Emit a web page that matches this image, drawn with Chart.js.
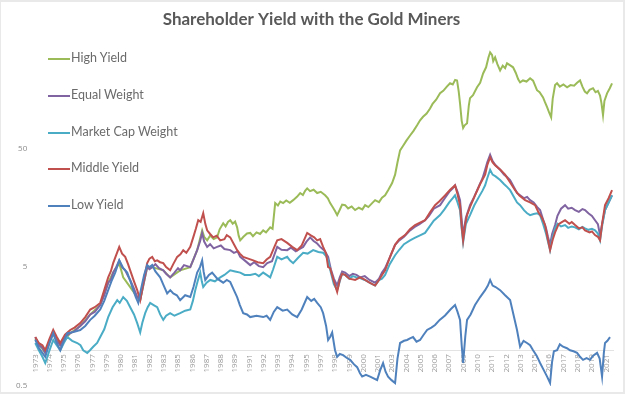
<!DOCTYPE html>
<html>
<head>
<meta charset="utf-8">
<script src="https://cdn.jsdelivr.net/npm/chart.js@4.4.1/dist/chart.umd.min.js"></script>
<style>
  html, body { margin: 0; padding: 0; background: #fff; }
  #frame {
    position: relative;
    width: 625px;
    height: 394px;
    box-sizing: border-box;
    border-top: 2px solid #e9e9e9;
    border-left: 1px solid #e9e9e9;
    border-right: 2px solid #e9e9e9;
    border-bottom: 2px solid #e9e9e9;
    background: #fff;
  }
  #chart { position: absolute; left: 0; top: 0; }
  #legend { position: absolute; left: 0; top: 0; font-family: Lato, "Open Sans", sans-serif; font-size: 12.5px; color: #6b6b6b; }
  .item { position: absolute; white-space: nowrap; line-height: 14px; }
  .swatch { position: absolute; width: 22px; height: 2px; }
</style>
</head>
<body>
<div id="frame">
  <canvas id="chart" width="622" height="390"></canvas>
  <div id="legend"></div>
</div>
<script>
const SERIES_NAMES = ["High Yield", "Equal Weight", "Market Cap Weight", "Middle Yield", "Low Yield"];
const SERIES_COLORS = ["#9bbb59", "#8064a2", "#4bacc6", "#c0504d", "#4f81bd"];

// x tick positions (fractional years) and the text printed under each
const tickPositions = [
  1973.0, 1974.2, 1975.4, 1976.6, 1977.8, 1979.0, 1980.2, 1981.4, 1982.6, 1983.8,
  1985.0, 1986.2, 1987.4, 1988.6, 1989.8, 1991.0, 1992.2, 1993.4, 1994.6, 1995.8,
  1997.0, 1998.2, 1999.4, 2000.6, 2001.8, 2003.0, 2004.2, 2005.4, 2006.6, 2007.8,
  2009.0, 2010.2, 2011.4, 2012.6, 2013.8, 2015.0, 2016.2, 2017.4, 2018.6, 2019.8, 2021.0,
];
const tickLabels = [
  "1973", "1974", "1975", "1976", "1977", "1979", "1980", "1981", "1982", "1983",
  "1985", "1986", "1987", "1988", "1989", "1991", "1992", "1993", "1994", "1995",
  "1997", "1998", "1999", "2000", "2001", "2003", "2004", "2005", "2006", "2007",
  "2009", "2010", "2011", "2012", "2013", "2015", "2016", "2017", "2018", "2019", "2021",
];
const yTicks = [0.5, 5, 50];

// [year, growth of $1]
const highYield = [
  [1973.0, 1.25], [1973.84, 0.95], [1974.51, 1.39], [1975.1, 1.1], [1975.94, 1.39], [1976.78, 1.6],
  [1977.62, 2.0], [1978.46, 2.4], [1979.13, 3.7], [1979.55, 4.5], [1980.06, 5.4], [1980.39, 4.1],
  [1980.98, 3.4], [1981.57, 2.8], [1981.82, 2.64], [1982.41, 5.0], [1982.83, 5.0], [1983.76, 4.7],
  [1984.34, 4.1], [1985.18, 4.7], [1986.03, 5.0], [1986.61, 6.95], [1987.03, 10.2], [1987.2, 9.0],
  [1987.45, 8.4], [1987.7, 9.2], [1988.0, 8.6], [1988.29, 8.9], [1988.5, 10.4], [1988.8, 11.7],
  [1989.0, 11.0], [1989.2, 12.0], [1989.39, 12.4], [1989.6, 11.6], [1989.8, 12.1], [1989.97, 10.8],
  [1990.1, 9.2], [1990.23, 8.4], [1990.5, 9.0], [1990.8, 9.6], [1991.07, 9.7], [1991.3, 9.1],
  [1991.6, 9.8], [1991.9, 9.5], [1992.16, 10.2], [1992.4, 9.8], [1992.75, 10.8], [1992.95, 10.5],
  [1993.17, 17.3], [1993.4, 16.5], [1993.6, 17.8], [1993.84, 17.3], [1994.1, 18.2], [1994.4, 17.4],
  [1994.68, 18.3], [1995.0, 19.5], [1995.27, 21], [1995.5, 20.2], [1995.7, 22.0], [1995.86, 23],
  [1996.1, 21.8], [1996.4, 22.4], [1996.7, 21], [1997.0, 21.5], [1997.37, 20.1], [1997.6, 19.0],
  [1997.79, 17.3], [1998.0, 16.0], [1998.2, 14.8], [1998.38, 13.7], [1998.6, 15.2], [1998.8, 16.8],
  [1999.05, 16.6], [1999.3, 15.6], [1999.6, 16.2], [1999.89, 15.1], [2000.2, 15.8], [2000.5, 15.3],
  [2000.73, 16.6], [2001.0, 16.0], [2001.3, 17.2], [2001.57, 18.3], [2001.9, 17.6], [2002.15, 19.2],
  [2002.41, 20.1], [2002.7, 22.5], [2003.0, 25.5], [2003.25, 30], [2003.45, 38], [2003.67, 48],
  [2003.9, 52], [2004.2, 58], [2004.51, 64], [2004.8, 70], [2005.1, 78], [2005.35, 86],
  [2005.6, 92], [2005.9, 98], [2006.19, 108], [2006.4, 118], [2006.7, 128], [2007.03, 145],
  [2007.3, 152], [2007.6, 165], [2007.87, 176], [2008.1, 172], [2008.3, 188], [2008.46, 186],
  [2008.6, 150], [2008.71, 119], [2008.85, 85], [2008.97, 74], [2009.1, 78], [2009.3, 81],
  [2009.45, 115], [2009.55, 132], [2009.8, 140], [2010.14, 163], [2010.4, 178], [2010.65, 213],
  [2010.9, 240], [2011.1, 290], [2011.24, 320], [2011.4, 305], [2011.5, 270], [2011.66, 291],
  [2011.85, 255], [2012.08, 226], [2012.3, 248], [2012.5, 236], [2012.66, 259], [2012.9, 250],
  [2013.17, 240], [2013.4, 215], [2013.6, 190], [2013.76, 179], [2014.0, 186], [2014.3, 182],
  [2014.6, 194], [2014.85, 185], [2015.18, 154], [2015.4, 148], [2015.69, 134], [2015.85, 122],
  [2016.03, 111], [2016.2, 100], [2016.37, 91], [2016.5, 130], [2016.7, 170], [2016.87, 176],
  [2017.1, 165], [2017.4, 172], [2017.71, 163], [2018.0, 170], [2018.3, 168], [2018.55, 178],
  [2018.8, 186], [2019.0, 165], [2019.2, 150], [2019.39, 145], [2019.6, 155], [2019.89, 160],
  [2020.1, 148], [2020.3, 152], [2020.48, 139], [2020.6, 120], [2020.73, 95], [2020.85, 125],
  [2021.07, 145], [2021.3, 160], [2021.49, 176],
];
const equalWeight = [
  [1973.0, 1.29], [1973.3, 1.1], [1973.6, 1.05], [1973.84, 0.95], [1974.2, 1.2], [1974.51, 1.39],
  [1974.8, 1.2], [1975.1, 1.1], [1975.5, 1.3], [1975.94, 1.39], [1976.3, 1.45], [1976.78, 1.6],
  [1977.2, 1.75], [1977.62, 2.0], [1978.0, 2.1], [1978.46, 2.4], [1978.8, 2.9], [1979.13, 3.7],
  [1979.35, 3.9], [1979.55, 4.5], [1979.8, 5.0], [1980.06, 5.7], [1980.3, 5.0], [1980.56, 4.7],
  [1980.8, 4.2], [1980.98, 3.9], [1981.3, 3.3], [1981.57, 2.8], [1981.82, 2.64], [1982.1, 3.6],
  [1982.41, 5.0], [1982.6, 4.8], [1982.83, 5.0], [1983.1, 5.3], [1983.4, 4.9], [1983.76, 4.7],
  [1984.0, 4.4], [1984.34, 4.1], [1984.7, 4.5], [1985.0, 4.9], [1985.18, 4.7], [1985.5, 5.2],
  [1986.03, 5.0], [1986.3, 5.8], [1986.61, 6.95], [1986.85, 8.2], [1987.03, 9.7], [1987.2, 8.2],
  [1987.45, 7.4], [1987.7, 7.8], [1988.0, 7.2], [1988.29, 7.4], [1988.6, 7.6], [1988.9, 7.1],
  [1989.39, 6.95], [1989.7, 6.6], [1990.0, 6.8], [1990.23, 6.1], [1990.6, 5.7], [1991.07, 5.2],
  [1991.4, 5.5], [1991.8, 5.1], [1992.16, 5.0], [1992.5, 5.4], [1992.9, 5.6], [1993.34, 7.4],
  [1993.7, 7.0], [1994.18, 6.95], [1994.5, 7.3], [1994.9, 6.8], [1995.2, 7.1], [1995.52, 7.4],
  [1995.8, 8.2], [1996.11, 8.9], [1996.4, 8.3], [1996.7, 7.9], [1996.95, 7.4], [1997.3, 6.9],
  [1997.62, 6.1], [1997.85, 4.8], [1998.1, 4.0], [1998.38, 3.5], [1998.6, 4.1], [1998.8, 4.6],
  [1999.05, 4.5], [1999.4, 4.2], [1999.7, 4.4], [2000.0, 4.3], [2000.31, 4.1], [2000.7, 4.2],
  [2001.1, 3.9], [2001.57, 3.7], [2001.9, 4.0], [2002.15, 4.5], [2002.41, 4.9], [2002.8, 6.0],
  [2003.25, 7.7], [2003.6, 8.4], [2004.0, 9.0], [2004.51, 10.2], [2004.9, 10.9], [2005.3, 11.5],
  [2005.77, 12.4], [2006.1, 13.5], [2006.5, 15.5], [2007.03, 16.6], [2007.4, 18.8], [2007.8, 21.5],
  [2008.1, 23.0], [2008.29, 24.4], [2008.5, 21.5], [2008.71, 18.3], [2008.85, 12.5], [2008.97, 9.3],
  [2009.2, 13.0], [2009.55, 16.6], [2009.9, 19.5], [2010.3, 24], [2010.6, 28], [2010.82, 33],
  [2011.0, 38], [2011.24, 44], [2011.45, 39], [2011.7, 36], [2012.08, 33], [2012.4, 30],
  [2012.6, 29], [2012.92, 27], [2013.3, 23], [2013.5, 21], [2013.76, 20.1], [2014.1, 19],
  [2014.35, 19.5], [2014.6, 18.3], [2014.9, 17.5], [2015.2, 16], [2015.44, 15.1], [2015.7, 12.5],
  [2015.95, 10.5], [2016.1, 9.0], [2016.28, 7.7], [2016.45, 9.5], [2016.7, 11.3], [2016.9, 13.5],
  [2017.2, 15.5], [2017.54, 16.6], [2017.8, 15.5], [2018.1, 15.8], [2018.38, 15.1], [2018.7, 14.6],
  [2019.0, 15.4], [2019.22, 15.1], [2019.5, 14.2], [2019.8, 13.5], [2020.06, 12.4], [2020.3, 11.5],
  [2020.48, 9.3], [2020.65, 11.5], [2020.9, 15.1], [2021.2, 17.5], [2021.49, 20.1],
];
const marketCapWeight = [
  [1973.0, 1.15], [1973.3, 1.0], [1973.6, 0.88], [1973.84, 0.78], [1974.2, 1.0], [1974.51, 1.22],
  [1974.8, 1.1], [1975.1, 1.0], [1975.4, 1.15], [1975.69, 1.29], [1976.1, 1.2], [1976.53, 1.15],
  [1976.8, 1.1], [1977.03, 1.0], [1977.37, 0.95], [1977.6, 1.0], [1977.87, 1.07], [1978.2, 1.15],
  [1978.46, 1.29], [1978.8, 1.5], [1979.13, 1.9], [1979.5, 2.3], [1979.89, 2.64], [1980.1, 2.5],
  [1980.39, 2.8], [1980.7, 2.6], [1980.98, 2.3], [1981.3, 2.0], [1981.57, 1.69], [1981.82, 1.41],
  [1982.0, 1.7], [1982.24, 2.05], [1982.45, 2.3], [1982.66, 2.5], [1982.95, 2.4], [1983.25, 2.3],
  [1983.5, 2.0], [1983.76, 1.8], [1984.0, 1.95], [1984.34, 2.05], [1984.7, 1.95], [1985.18, 2.05],
  [1985.6, 2.15], [1986.03, 2.2], [1986.25, 2.6], [1986.45, 3.2], [1986.65, 3.8], [1986.87, 4.5],
  [1987.0, 3.8], [1987.12, 3.4], [1987.4, 3.7], [1987.71, 3.9], [1988.1, 3.8], [1988.55, 4.1],
  [1988.9, 4.3], [1989.39, 4.7], [1989.8, 4.6], [1990.23, 4.5], [1990.6, 4.3], [1991.07, 4.3],
  [1991.5, 4.4], [1991.8, 4.2], [1992.16, 4.5], [1992.45, 4.3], [1992.75, 4.1], [1993.0, 4.8],
  [1993.34, 6.1], [1993.7, 5.8], [1994.18, 6.1], [1994.4, 5.7], [1994.68, 5.4], [1995.1, 6.0],
  [1995.52, 6.6], [1995.9, 6.5], [1996.36, 6.95], [1996.8, 6.7], [1997.2, 6.6], [1997.45, 6.2],
  [1997.62, 5.7], [1997.85, 4.5], [1998.1, 3.6], [1998.38, 3.2], [1998.6, 3.8], [1998.8, 4.4],
  [1999.05, 4.3], [1999.4, 4.0], [1999.7, 4.2], [2000.0, 4.1], [2000.31, 4.05], [2000.7, 3.9],
  [2001.1, 3.7], [2001.57, 3.5], [2001.9, 3.9], [2002.15, 4.0], [2002.41, 4.3], [2002.8, 5.3],
  [2003.25, 6.3], [2003.6, 7.0], [2004.0, 7.8], [2004.51, 8.4], [2004.9, 8.8], [2005.3, 9.2],
  [2005.77, 9.7], [2006.1, 10.8], [2006.5, 12.3], [2007.03, 13.7], [2007.4, 15.3], [2007.8, 17.5],
  [2008.1, 19.0], [2008.29, 20.1], [2008.5, 17.5], [2008.71, 15.1], [2008.85, 10.5], [2008.97, 8.1],
  [2009.2, 11.5], [2009.55, 13.7], [2009.9, 16.5], [2010.3, 19.5], [2010.6, 22], [2010.82, 24.4],
  [2011.0, 28], [2011.24, 33], [2011.45, 30], [2011.7, 29], [2012.08, 27], [2012.4, 25],
  [2012.6, 24], [2012.92, 22.2], [2013.3, 19], [2013.5, 17.5], [2013.76, 16.6], [2014.1, 15],
  [2014.35, 14.2], [2014.6, 13.7], [2014.9, 14.0], [2015.2, 14.2], [2015.44, 13.7], [2015.7, 11.5],
  [2015.95, 9.5], [2016.1, 8.2], [2016.28, 6.95], [2016.45, 8.6], [2016.7, 10.6], [2016.9, 11.6],
  [2017.2, 11.0], [2017.54, 11.3], [2017.8, 10.7], [2018.1, 11.0], [2018.38, 10.8], [2018.7, 10.4],
  [2019.0, 10.9], [2019.22, 10.6], [2019.5, 10.3], [2019.8, 10.5], [2020.06, 10.2], [2020.3, 9.6],
  [2020.48, 8.4], [2020.65, 11.0], [2020.9, 15.1], [2021.2, 17.5], [2021.49, 20.1],
];
const middleYield = [
  [1973.0, 1.29], [1973.3, 1.15], [1973.6, 1.1], [1973.84, 1.0], [1974.2, 1.25], [1974.51, 1.48],
  [1974.8, 1.3], [1975.1, 1.15], [1975.5, 1.35], [1975.94, 1.48], [1976.3, 1.55], [1976.78, 1.69],
  [1977.2, 1.9], [1977.62, 2.2], [1978.0, 2.3], [1978.46, 2.5], [1978.8, 3.2], [1979.13, 4.1],
  [1979.35, 4.6], [1979.55, 5.4], [1979.8, 6.3], [1980.06, 7.4], [1980.3, 6.5], [1980.56, 6.1],
  [1980.8, 5.3], [1980.98, 4.7], [1981.3, 3.8], [1981.57, 3.2], [1981.82, 2.64], [1982.1, 3.8],
  [1982.41, 5.4], [1982.6, 5.9], [1982.83, 6.1], [1983.05, 5.6], [1983.25, 5.7], [1983.5, 5.5],
  [1983.76, 5.4], [1984.0, 5.0], [1984.34, 4.7], [1984.6, 5.3], [1984.93, 6.1], [1985.2, 6.4],
  [1985.44, 6.95], [1985.7, 6.6], [1986.03, 7.4], [1986.28, 8.9], [1986.5, 10.5], [1986.7, 12.4],
  [1986.9, 12.0], [1987.12, 14.2], [1987.3, 11.5], [1987.45, 10.2], [1987.7, 9.5], [1987.96, 8.9],
  [1988.25, 9.2], [1988.55, 8.4], [1988.9, 8.6], [1989.1, 9.3], [1989.39, 8.9], [1989.7, 7.8],
  [1989.97, 6.95], [1990.2, 6.5], [1990.48, 6.1], [1990.9, 5.9], [1991.32, 5.7], [1991.7, 5.5],
  [1992.16, 5.4], [1992.45, 5.8], [1992.75, 6.1], [1993.05, 7.2], [1993.34, 8.4], [1993.7, 8.6],
  [1994.18, 8.0], [1994.6, 7.4], [1995.02, 6.95], [1995.4, 7.6], [1995.86, 9.7], [1996.2, 9.2],
  [1996.45, 8.9], [1996.7, 8.4], [1996.95, 8.6], [1997.2, 7.4], [1997.45, 6.5], [1997.62, 5.0],
  [1997.79, 4.9], [1998.1, 3.8], [1998.38, 3.1], [1998.6, 3.9], [1998.8, 4.4], [1999.05, 4.3],
  [1999.4, 4.0], [1999.89, 3.9], [2000.3, 4.1], [2000.73, 3.9], [2001.1, 3.7], [2001.57, 3.5],
  [2001.9, 3.9], [2002.15, 4.3], [2002.41, 4.7], [2002.8, 6.0], [2003.25, 7.7], [2003.6, 8.6],
  [2004.09, 9.3], [2004.5, 10.4], [2004.93, 11.3], [2005.3, 11.8], [2005.77, 12.4], [2006.2, 14.5],
  [2006.61, 16.6], [2007.0, 18.0], [2007.45, 20.1], [2007.9, 22.5], [2008.29, 24.4], [2008.5, 20.5],
  [2008.71, 16.6], [2008.85, 11.0], [2008.97, 8.4], [2009.15, 11.5], [2009.3, 13.7], [2009.6, 16.5],
  [2009.97, 20.1], [2010.4, 25], [2010.82, 30], [2011.0, 36], [2011.24, 42], [2011.45, 38],
  [2011.66, 36], [2012.1, 33], [2012.5, 30], [2012.9, 26], [2013.34, 22.2], [2013.7, 20],
  [2014.18, 18.3], [2014.6, 17.5], [2015.02, 16.6], [2015.3, 14.5], [2015.6, 13.0], [2015.86, 11.3],
  [2016.1, 8.5], [2016.28, 6.95], [2016.5, 8.5], [2016.7, 9.8], [2017.0, 11.5], [2017.3, 12.0],
  [2017.54, 12.4], [2017.9, 11.6], [2018.1, 12.0], [2018.38, 11.3], [2018.7, 10.6], [2019.0, 10.8],
  [2019.22, 10.2], [2019.6, 9.8], [2019.8, 10.0], [2020.06, 9.3], [2020.3, 9.0], [2020.48, 8.4],
  [2020.65, 11.5], [2020.9, 16.6], [2021.2, 19.0], [2021.49, 22.2],
];
const lowYield = [
  [1973.0, 1.22], [1973.3, 1.05], [1973.6, 0.95], [1973.84, 0.88], [1974.2, 1.15], [1974.51, 1.39],
  [1974.8, 1.15], [1975.1, 1.0], [1975.4, 1.2], [1975.69, 1.39], [1976.2, 1.42], [1976.78, 1.48],
  [1977.2, 1.6], [1977.62, 1.8], [1978.0, 1.95], [1978.46, 2.2], [1978.8, 2.6], [1979.13, 3.2],
  [1979.4, 3.8], [1979.72, 4.5], [1980.06, 5.7], [1980.4, 4.9], [1980.73, 4.5], [1981.0, 3.8],
  [1981.24, 3.2], [1981.45, 2.8], [1981.66, 2.5], [1981.9, 3.3], [1982.15, 4.3], [1982.41, 5.2],
  [1982.6, 5.0], [1982.83, 5.2], [1983.1, 4.6], [1983.5, 4.1], [1983.8, 3.5], [1984.09, 3.0],
  [1984.35, 3.2], [1984.6, 3.0], [1984.9, 2.9], [1985.18, 2.64], [1985.6, 2.9], [1986.03, 2.8],
  [1986.3, 3.4], [1986.61, 4.5], [1986.85, 5.0], [1987.03, 5.7], [1987.15, 4.6], [1987.29, 3.9],
  [1987.6, 4.3], [1987.87, 4.5], [1988.3, 4.0], [1988.8, 3.7], [1989.1, 3.9], [1989.39, 3.75],
  [1989.7, 3.2], [1989.97, 2.8], [1990.2, 2.4], [1990.48, 2.05], [1990.8, 2.0], [1991.07, 1.9],
  [1991.6, 1.95], [1992.16, 1.9], [1992.45, 1.95], [1992.75, 1.8], [1993.05, 2.1], [1993.34, 2.3],
  [1993.8, 2.15], [1994.18, 2.2], [1994.6, 2.0], [1995.02, 1.9], [1995.4, 2.2], [1995.86, 2.8],
  [1996.2, 2.6], [1996.45, 2.7], [1996.7, 2.5], [1997.0, 2.3], [1997.2, 2.05], [1997.45, 1.6],
  [1997.62, 1.22], [1997.8, 1.3], [1997.96, 1.41], [1998.2, 1.0], [1998.38, 0.88], [1998.6, 0.93],
  [1998.88, 0.91], [1999.2, 0.86], [1999.47, 0.83], [1999.8, 0.76], [2000.06, 0.72], [2000.3, 0.64],
  [2000.48, 0.6], [2000.8, 0.62], [2001.15, 0.6], [2001.45, 0.58], [2001.74, 0.56], [2002.0, 0.68],
  [2002.24, 0.78], [2002.45, 0.66], [2002.66, 0.6], [2002.95, 0.56], [2003.25, 0.53], [2003.45, 0.85],
  [2003.67, 1.15], [2004.0, 1.2], [2004.26, 1.22], [2004.5, 1.26], [2004.76, 1.29], [2005.05, 1.18],
  [2005.35, 1.22], [2005.65, 1.35], [2005.94, 1.48], [2006.3, 1.55], [2006.61, 1.63], [2007.0, 1.8],
  [2007.45, 1.96], [2007.9, 2.2], [2008.29, 2.4], [2008.5, 2.1], [2008.71, 1.8], [2008.85, 1.1],
  [2008.97, 0.78], [2009.15, 1.3], [2009.3, 1.8], [2009.6, 2.0], [2009.97, 2.4], [2010.4, 2.8],
  [2010.82, 3.2], [2011.05, 3.5], [2011.24, 3.9], [2011.45, 3.5], [2011.7, 3.4], [2012.08, 3.2],
  [2012.5, 2.9], [2012.92, 2.64], [2013.2, 2.0], [2013.5, 1.48], [2013.76, 1.07], [2014.05, 1.2],
  [2014.34, 1.15], [2014.6, 1.1], [2014.85, 1.0], [2015.15, 0.9], [2015.44, 0.78], [2015.75, 0.68],
  [2016.03, 0.6], [2016.28, 0.53], [2016.45, 0.8], [2016.6, 0.98], [2016.87, 1.0], [2017.1, 1.12],
  [2017.37, 1.07], [2017.7, 1.04], [2017.96, 1.0], [2018.25, 0.98], [2018.55, 0.95], [2018.8, 0.88],
  [2019.05, 0.83], [2019.35, 0.86], [2019.64, 0.83], [2019.9, 0.9], [2020.23, 0.95], [2020.45, 0.85],
  [2020.65, 0.6], [2020.8, 0.95], [2020.9, 1.15], [2021.1, 1.2], [2021.32, 1.29],
];

const SERIES = [highYield, equalWeight, marketCapWeight, middleYield, lowYield];

function toPoints(rows) {
  return rows.map((r) => ({ x: r[0], y: r[1] }));
}

// Excel draws later series on top; in Chart.js a lower order is drawn on top
const datasets = SERIES.map((rows, i) => ({
  label: SERIES_NAMES[i],
  data: toPoints(rows),
  borderColor: SERIES_COLORS[i],
  borderWidth: 2,
  pointRadius: 0,
  tension: 0,
  order: SERIES.length - i,
}));

new Chart(document.getElementById("chart"), {
  type: "line",
  data: { datasets },
  options: {
    responsive: false,
    animation: false,
    layout: { padding: { left: 9, right: 10, top: 0, bottom: 6 } },
    plugins: {
      legend: { display: false },
      tooltip: { enabled: false },
      title: {
        display: true,
        text: "Shareholder Yield with the Gold Miners",
        color: "#595959",
        font: { family: "Lato", size: 17, weight: "bold" },
        padding: { top: 7, bottom: 0 },
      },
    },
    scales: {
      x: {
        type: "linear",
        min: 1972.83,
        max: 2021.57,
        position: { y: 1 },
        grid: { display: false, drawTicks: false },
        border: { display: true, color: "#e3e3e3", width: 1 },
        afterBuildTicks: (scale) => {
          scale.ticks = tickPositions.map((v) => ({ value: v }));
        },
        ticks: {
          autoSkip: false,
          minRotation: 90,
          maxRotation: 90,
          padding: 4,
          color: "#9a9a9a",
          font: { family: "Open Sans", size: 8 },
          callback: (value, index) => tickLabels[index],
        },
      },
      y: {
        type: "logarithmic",
        min: 0.5,
        max: 500,
        grid: { display: false, drawTicks: false },
        border: { display: false },
        afterBuildTicks: (scale) => {
          scale.ticks = yTicks.map((v) => ({ value: v }));
        },
        // let the bottom tick label hang into the margin instead of shrinking the plot
        afterFit: (scale) => {
          scale.paddingBottom = 0;
        },
        ticks: {
          padding: 6,
          color: "#8a8a8a",
          font: { family: "Open Sans", size: 8 },
          callback: (value) => String(value),
        },
      },
    },
  },
});

// legend drawn inside the plot, at the upper left
const legendTops = [58, 95, 132, 168, 205];
const legend = document.getElementById("legend");
SERIES_NAMES.forEach((name, i) => {
  const sw = document.createElement("div");
  sw.className = "swatch";
  sw.style.background = SERIES_COLORS[i];
  sw.style.left = "47px";
  sw.style.top = legendTops[i] - 2 + "px";
  legend.appendChild(sw);
  const txt = document.createElement("div");
  txt.className = "item";
  txt.textContent = name;
  txt.style.left = "70px";
  txt.style.top = legendTops[i] - 9 + "px";
  legend.appendChild(txt);
});
</script>
</body>
</html>
